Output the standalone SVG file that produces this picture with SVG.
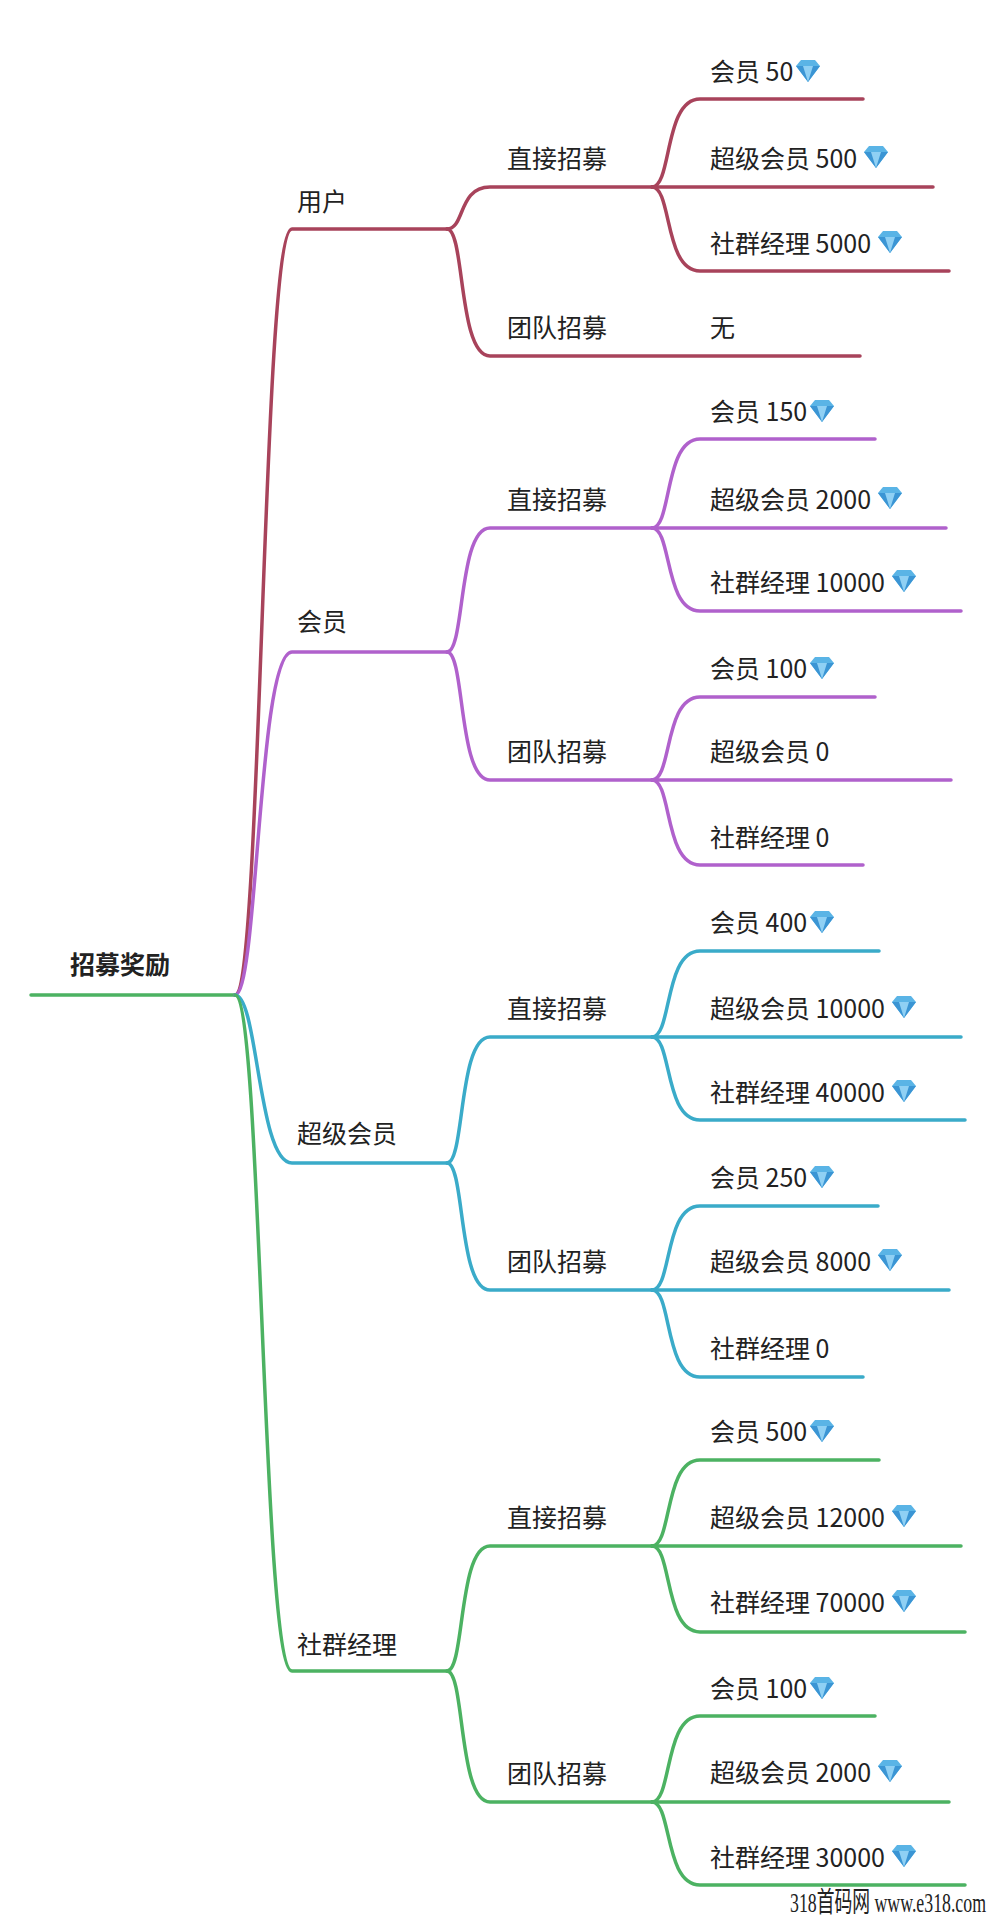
<svg xmlns="http://www.w3.org/2000/svg" width="994" height="1920" viewBox="0 0 994 1920">
<style>
text{font-family:"Noto Sans CJK SC","Liberation Sans",sans-serif;font-size:25px;fill:#222;dominant-baseline:central}
.root{font-weight:bold;font-size:25px}
path{fill:none;stroke-width:3.5;stroke-linecap:round}
.r{stroke:#a8435b}.p{stroke:#b061cc}.c{stroke:#3aabc9}.g{stroke:#4cb262}
.wm{font-family:"Liberation Serif","Noto Sans CJK SC",serif;font-size:28px;fill:#222}
</style>
<defs>
<g id="gem"><polygon points="0,6 5,0 19,0 24,6 12,22" fill="#5ab4e6"/><polygon points="0,6 24,6 12,22" fill="#3b95d4"/><polygon points="7,6 17,6 12,22" fill="#8fd0f4"/></g>
</defs>
<g id="connectors">
<path class="g" d="M31,995 L235,995"/>
<path class="r" d="M235,995 C262,995 262,229 292,229 L447,229"/>
<path class="p" d="M235,995 C258,995 258,652 292,652 L447,652"/>
<path class="c" d="M235,995 C258,995 258,1163 292,1163 L447,1163"/>
<path class="g" d="M235,995 C262,995 262,1671 292,1671 L447,1671"/>
<path class="r" d="M447,229 C465,229 458,187 490,187 L652,187"/>
<path class="r" d="M447,229 C465,229 458,356 490,356 L860,356"/>
<path class="r" d="M652,187 C672,187 664,99 700,99 L863,99"/>
<path class="r" d="M652,187 L933,187"/>
<path class="r" d="M652,187 C672,187 664,271 700,271 L949,271"/>
<path class="p" d="M447,652 C465,652 458,528 490,528 L652,528"/>
<path class="p" d="M447,652 C465,652 458,780 490,780 L652,780"/>
<path class="p" d="M652,528 C672,528 664,439 700,439 L875,439"/>
<path class="p" d="M652,528 L946,528"/>
<path class="p" d="M652,528 C672,528 664,611 700,611 L961,611"/>
<path class="p" d="M652,780 C672,780 664,697 700,697 L875,697"/>
<path class="p" d="M652,780 L951,780"/>
<path class="p" d="M652,780 C672,780 664,865 700,865 L863,865"/>
<path class="c" d="M447,1163 C465,1163 458,1037 490,1037 L652,1037"/>
<path class="c" d="M447,1163 C465,1163 458,1290 490,1290 L652,1290"/>
<path class="c" d="M652,1037 C672,1037 664,951 700,951 L879,951"/>
<path class="c" d="M652,1037 L961,1037"/>
<path class="c" d="M652,1037 C672,1037 664,1120 700,1120 L965,1120"/>
<path class="c" d="M652,1290 C672,1290 664,1206 700,1206 L878,1206"/>
<path class="c" d="M652,1290 L949,1290"/>
<path class="c" d="M652,1290 C672,1290 664,1377 700,1377 L863,1377"/>
<path class="g" d="M447,1671 C465,1671 458,1546 490,1546 L652,1546"/>
<path class="g" d="M447,1671 C465,1671 458,1802 490,1802 L652,1802"/>
<path class="g" d="M652,1546 C672,1546 664,1460 700,1460 L879,1460"/>
<path class="g" d="M652,1546 L961,1546"/>
<path class="g" d="M652,1546 C672,1546 664,1632 700,1632 L965,1632"/>
<path class="g" d="M652,1802 C672,1802 664,1716 700,1716 L875,1716"/>
<path class="g" d="M652,1802 L949,1802"/>
<path class="g" d="M652,1802 C672,1802 664,1885 700,1885 L965,1885"/>
</g>
<g id="root"><text class="root" x="70" y="963">招募奖励</text></g>
<g id="l1">
<text x="297" y="200">用户</text>
<text x="297" y="620">会员</text>
<text x="297" y="1132">超级会员</text>
<text x="297" y="1643">社群经理</text>
</g>
<g id="l2">
<text x="507" y="157">直接招募</text><text x="507" y="326">团队招募</text>
<text x="507" y="498">直接招募</text><text x="507" y="750">团队招募</text>
<text x="507" y="1007">直接招募</text><text x="507" y="1260">团队招募</text>
<text x="507" y="1516">直接招募</text><text x="507" y="1772">团队招募</text>
</g>
<g id="leaves">
<text x="710" y="70">会员 50</text><use href="#gem" x="796" y="60"/>
<text x="710" y="157">超级会员 500</text><use href="#gem" x="864" y="146"/>
<text x="710" y="242">社群经理 5000</text><use href="#gem" x="878" y="231"/>
<text x="710" y="326">无</text>
<text x="710" y="410">会员 150</text><use href="#gem" x="810" y="400"/>
<text x="710" y="498">超级会员 2000</text><use href="#gem" x="878" y="487"/>
<text x="710" y="581">社群经理 10000</text><use href="#gem" x="892" y="570"/>
<text x="710" y="667">会员 100</text><use href="#gem" x="810" y="657"/>
<text x="710" y="750">超级会员 0</text>
<text x="710" y="836">社群经理 0</text>
<text x="710" y="921">会员 400</text><use href="#gem" x="810" y="911"/>
<text x="710" y="1007">超级会员 10000</text><use href="#gem" x="892" y="996"/>
<text x="710" y="1091">社群经理 40000</text><use href="#gem" x="892" y="1080"/>
<text x="710" y="1176">会员 250</text><use href="#gem" x="810" y="1166"/>
<text x="710" y="1260">超级会员 8000</text><use href="#gem" x="878" y="1249"/>
<text x="710" y="1347">社群经理 0</text>
<text x="710" y="1430">会员 500</text><use href="#gem" x="810" y="1420"/>
<text x="710" y="1516">超级会员 12000</text><use href="#gem" x="892" y="1505"/>
<text x="710" y="1601">社群经理 70000</text><use href="#gem" x="892" y="1590"/>
<text x="710" y="1687">会员 100</text><use href="#gem" x="810" y="1677"/>
<text x="710" y="1771">超级会员 2000</text><use href="#gem" x="878" y="1760"/>
<text x="710" y="1856">社群经理 30000</text><use href="#gem" x="892" y="1845"/>
</g>
<text class="wm" x="790" y="1902" dominant-baseline="auto" textLength="196" lengthAdjust="spacingAndGlyphs">318首码网 www.e318.com</text>
</svg>
